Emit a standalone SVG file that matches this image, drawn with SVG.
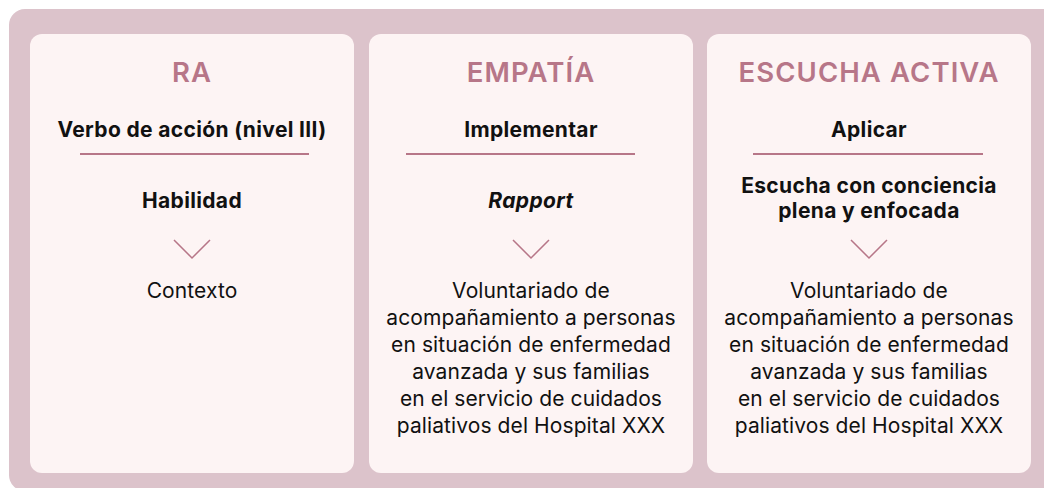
<svg xmlns="http://www.w3.org/2000/svg" width="1044" height="488" viewBox="0 0 1044 488">
<style>
.bg{fill:#dcc3cb}
.card{fill:#fdf4f4}
.title{font-family:Inter,"Noto Sans",sans-serif;font-size:27.5px;font-weight:600;letter-spacing:1.1px;fill:#b77688;text-anchor:middle}
.sub{font-family:Inter,"Noto Sans",sans-serif;font-size:21px;font-weight:700;letter-spacing:0.35px;fill:#111;text-anchor:middle}
.body{font-family:Inter,"Noto Sans",sans-serif;font-size:21px;font-weight:400;letter-spacing:0.1px;fill:#111;text-anchor:middle}
.rule{stroke:#b77688;stroke-width:2;fill:none}
.chev{stroke:#b77688;stroke-width:1.5;fill:none}
</style>
<rect class="bg" x="9" y="9" width="1060" height="482" rx="16"/>
<g id="card-ra">
<rect class="card" x="30" y="34" width="324" height="439" rx="12"/>
<text class="title" x="192" y="82">RA</text>
<text class="sub" x="192" y="137">Verbo de acción (nivel III)</text>
<text class="sub" x="192" y="208">Habilidad</text>
<text class="body" x="192" y="298">Contexto</text>
</g>
<g id="card-empatia">
<rect class="card" x="369" y="34" width="324" height="439" rx="12"/>
<text class="title" x="531" y="82">EMPATÍA</text>
<text class="sub" x="531" y="137">Implementar</text>
<text class="sub" x="531" y="208" font-style="italic">Rapport</text>
<text class="body" x="531" y="298">Voluntariado de</text>
<text class="body" x="531" y="325">acompañamiento a personas</text>
<text class="body" x="531" y="352">en situación de enfermedad</text>
<text class="body" x="531" y="379">avanzada y sus familias</text>
<text class="body" x="531" y="406">en el servicio de cuidados</text>
<text class="body" x="531" y="433">paliativos del Hospital XXX</text>
</g>
<g id="card-escucha">
<rect class="card" x="707" y="34" width="324" height="439" rx="12"/>
<text class="title" x="869" y="82">ESCUCHA ACTIVA</text>
<text class="sub" x="869" y="137">Aplicar</text>
<text class="sub" x="869" y="193">Escucha con conciencia</text>
<text class="sub" x="869" y="218">plena y enfocada</text>
<text class="body" x="869" y="298">Voluntariado de</text>
<text class="body" x="869" y="325">acompañamiento a personas</text>
<text class="body" x="869" y="352">en situación de enfermedad</text>
<text class="body" x="869" y="379">avanzada y sus familias</text>
<text class="body" x="869" y="406">en el servicio de cuidados</text>
<text class="body" x="869" y="433">paliativos del Hospital XXX</text>
</g>
<g id="connectors">
<line class="rule" x1="80" y1="154" x2="309" y2="154"/>
<line class="rule" x1="406" y1="154" x2="635" y2="154"/>
<line class="rule" x1="753" y1="154" x2="983" y2="154"/>
<polyline class="chev" points="174,240 192,258 210,240"/>
<polyline class="chev" points="513,240 531,258 549,240"/>
<polyline class="chev" points="851,240 869,258 887,240"/>
</g>
</svg>
